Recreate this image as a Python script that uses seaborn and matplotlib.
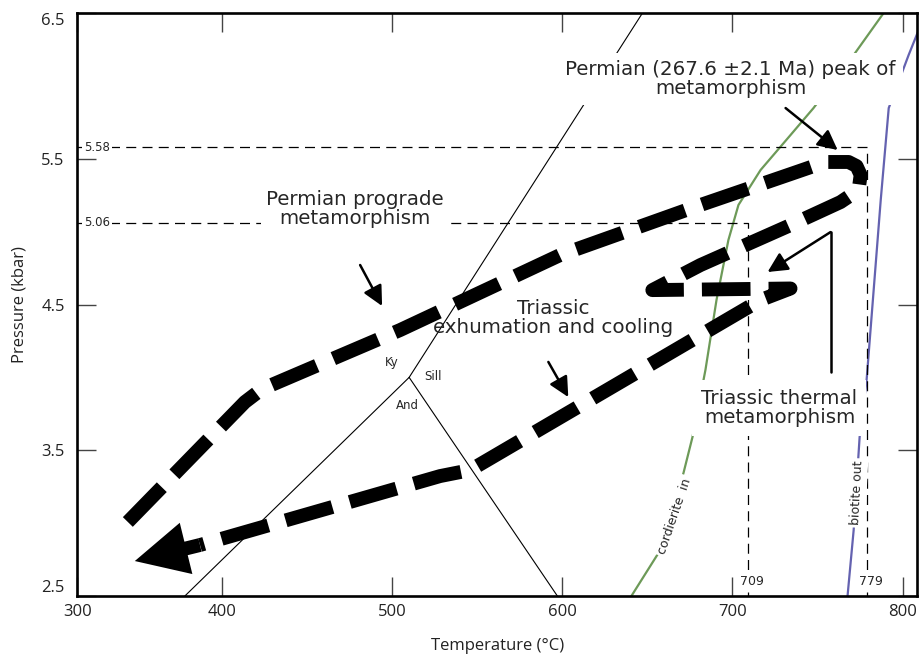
import matplotlib
matplotlib.use("Agg")
import matplotlib.pyplot as plt
import seaborn as sns

# ---------------- data ----------------
x_tick_vals = [315, 400, 500, 600, 700, 800]
x_tick_labels = ["300", "400", "500", "600", "700", "800"]
y_tick_vals = [2.5, 3.5, 4.5, 5.5, 6.5]
y_tick_labels = ["2.5", "3.5", "4.5", "5.5", "6.5"]
T_LIM = (315, 808.4)
P_LIM = (2.5, 6.5)

# Al2SiO5 triple point system
ky_and_T = [378.2, 510.0]
ky_and_P = [2.5, 4.0]
and_sill_T = [510.0, 597.1]
and_sill_P = [4.0, 2.5]
ky_sill_T = [510.0, 647.1]
ky_sill_P = [4.0, 6.5]

# cordierite-in reaction
crd_T = [640.6, 656.5, 671.2, 676.5, 684.1, 690.6, 697.6, 703.5, 716.5, 734.1, 747.6, 771.2, 788.8]
crd_P = [2.5, 2.795, 3.344, 3.591, 4.051, 4.531, 4.943, 5.183, 5.423, 5.663, 5.848, 6.212, 6.5]

# biotite-out reaction
bt_T = [767.6, 771.2, 774.7, 778.8, 787.1, 791.8, 803.5, 810.6]
bt_P = [2.5, 2.953, 3.591, 3.982, 5.217, 5.848, 6.212, 6.418]

# P-T path
path_T = [344.7, 413.5, 423.5, 504.7, 598.8, 681.2, 734.1, 754.7, 768.2, 772.9, 775.3, 774.1, 763.5,
          734.1, 681.2, 652.9, 734.1, 716.5, 545.9, 528.2, 387.1]
path_P = [3.008, 3.831, 3.920, 4.325, 4.840, 5.183, 5.395, 5.478, 5.478, 5.450, 5.389, 5.286, 5.203,
          5.045, 4.771, 4.599, 4.610, 4.531, 3.364, 3.323, 2.850]
path_tip = (348.8, 2.74)

# peak / thermal conditions
peak_T, peak_P = 779, 5.58
therm_T, therm_P = 709, 5.06

# annotation arrows (tail, head)
arrow_peak = ((731.2, 5.848), (761.8, 5.560))
arrow_prograde = ((481.2, 4.771), (494.1, 4.49))
arrow_exhum = ((591.8, 4.106), (603.5, 3.865))
thermal_bracket_T = [757.6, 757.6]
thermal_bracket_P = [4.037, 4.997]
arrow_thermal = ((757.6, 4.997), (720.6, 4.723))

GREEN = "#6d9a58"
BLUE = "#6462b0"

# ---------------- figure ----------------
sns.set_theme(style="ticks")
plt.rcParams["font.family"] = ["DejaVu Sans"]

fig = plt.figure(figsize=(9.19, 6.58), dpi=100)
ax = fig.add_axes([0.0841, 0.0942, 0.9137, 0.8860])

thin = dict(sort=False, estimator=None, color="black", lw=0.8, ax=ax, legend=False)
sns.lineplot(x=ky_and_T, y=ky_and_P, **thin)
sns.lineplot(x=and_sill_T, y=and_sill_P, **thin)
sns.lineplot(x=ky_sill_T, y=ky_sill_P, **thin)

sns.lineplot(x=crd_T, y=crd_P, sort=False, estimator=None, color=GREEN, lw=1.6, ax=ax, legend=False)
sns.lineplot(x=bt_T, y=bt_P, sort=False, estimator=None, color=BLUE, lw=1.6, ax=ax, legend=False)

# dashed reference lines
for tt, pp in [(peak_T, peak_P), (therm_T, therm_P)]:
    sns.lineplot(x=[T_LIM[0], tt, tt], y=[pp, pp, P_LIM[0]], sort=False, estimator=None,
                 color="black", lw=0.9, ax=ax, legend=False)
    ax.lines[-1].set_dashes([8, 5])

# P-T path
sns.lineplot(x=path_T, y=path_P, sort=False, estimator=None, color="black", lw=10, ax=ax, legend=False)
pl = ax.lines[-1]
pl.set_dashes([3.5, 1.30])
pl.set_dash_capstyle("butt")
pl.set_dash_joinstyle("round")
pl.set_zorder(5)

ax.annotate("", xy=path_tip, xytext=(path_T[-1], path_P[-1]),
            arrowprops=dict(arrowstyle="simple,head_length=1.9,head_width=1.9,tail_width=0.5",
                            mutation_scale=20, color="black", lw=0, shrinkA=0, shrinkB=0),
            zorder=6)

# annotation arrows
for tail, head in [arrow_peak, arrow_prograde, arrow_exhum, arrow_thermal]:
    ax.annotate("", xy=head, xytext=tail,
                arrowprops=dict(arrowstyle="-|>,head_length=0.6,head_width=0.3",
                                mutation_scale=20, color="black", lw=1.8,
                                shrinkA=0, shrinkB=0), zorder=6)
sns.lineplot(x=thermal_bracket_T, y=thermal_bracket_P, sort=False, estimator=None,
             color="black", lw=1.8, ax=ax, legend=False)

big = 14.3
ax.text(698.8, 6.047, "Permian (267.6 ±2.1 Ma) peak of\nmetamorphism", ha="center", va="center",
        fontsize=big, bbox=dict(boxstyle="square,pad=0.35", fc="white", ec="none"), zorder=4,
        linespacing=1.0)
ax.text(478.2, 5.155, "Permian prograde\nmetamorphism", ha="center", va="center",
        fontsize=big, bbox=dict(boxstyle="square,pad=0.25", fc="white", ec="none"), zorder=4,
        linespacing=1.0)
ax.text(594.7, 4.407, "Triassic\nexhumation and cooling", ha="center", va="center",
        fontsize=big, zorder=4, linespacing=1.0)
ax.text(727.6, 3.79, "Triassic thermal\nmetamorphism", ha="center", va="center",
        fontsize=big, bbox=dict(boxstyle="square,pad=0.45", fc="white", ec="none"), zorder=4,
        linespacing=1.0)

ax.text(500.0, 4.105, "Ky", ha="center", va="center", fontsize=8.5, zorder=4)
ax.text(524.1, 4.003, "Sill", ha="center", va="center", fontsize=8.5, zorder=4)
ax.text(508.8, 3.81, "And", ha="center", va="center", fontsize=8.5, zorder=4)

ax.text(665.9, 3.049, "cordierite  in", ha="center", va="center", fontsize=9, rotation=71,
        bbox=dict(boxstyle="square,pad=0.2", fc="white", ec="none"), zorder=4)
ax.text(773.5, 3.207, "biotite out", ha="center", va="center", fontsize=9, rotation=87,
        bbox=dict(boxstyle="square,pad=0.2", fc="white", ec="none"), zorder=4)

small_box = dict(boxstyle="square,pad=0.15", fc="white", ec="none")
ax.text(T_LIM[0] + 11.5, peak_P, f"{peak_P:.2f}", ha="center", va="center", fontsize=8.5,
        bbox=small_box, zorder=4)
ax.text(T_LIM[0] + 11.5, therm_P, f"{therm_P:.2f}", ha="center", va="center", fontsize=8.5,
        bbox=small_box, zorder=4)
ax.text(therm_T + 2.5, 2.6, f"{therm_T}", ha="center", va="center", fontsize=9,
        bbox=small_box, zorder=4)
ax.text(peak_T + 2.5, 2.6, f"{peak_T}", ha="center", va="center", fontsize=9,
        bbox=small_box, zorder=4)

# axes styling
ax.set_xlim(*T_LIM)
ax.set_ylim(*P_LIM)
ax.set_xticks(x_tick_vals)
ax.set_xticklabels(x_tick_labels, fontfamily="Open Sans", fontsize=12)
ax.set_yticks(y_tick_vals)
ax.set_yticklabels(y_tick_labels, fontfamily="Open Sans", fontsize=12)
ax.tick_params(direction="in", length=14, width=1.0, color="#444444", top=True, right=True,
               labelcolor="#222222")
ax.tick_params(axis="x", pad=6)
ax.tick_params(axis="y", pad=9)
ylabels = ax.get_yticklabels()
ylabels[0].set_va("bottom")
ylabels[-1].set_va("top")
for s in ax.spines.values():
    s.set_visible(True)
    s.set_linewidth(1.9)
    s.set_color("black")
ax.set_xlabel("Temperature (°C)", fontfamily="Open Sans", fontsize=12, labelpad=13, color="#222222")
ax.set_ylabel("Pressure (kbar)", fontfamily="Open Sans", fontsize=12, labelpad=10, color="#222222")
ax.set_facecolor("white")

fig.savefig("out.png", dpi=100, facecolor="white")
